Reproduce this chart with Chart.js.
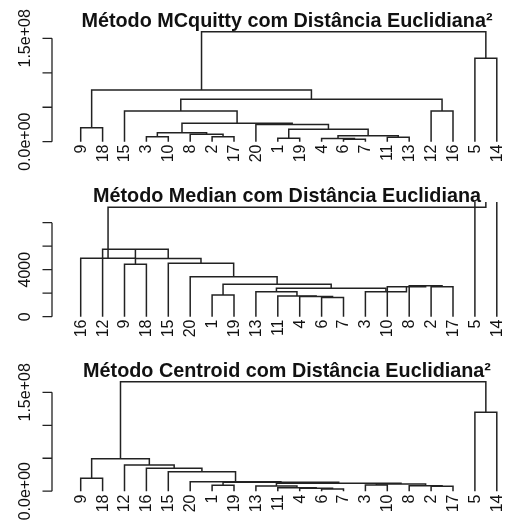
<!DOCTYPE html>
<html>
<head>
<meta charset="utf-8">
<script src="https://cdn.jsdelivr.net/npm/chart.js@4.4.0/dist/chart.umd.min.js"></script>
<style>
body { margin: 0; background: #fff; }
canvas { display: block; }
</style>
</head>
<body>
<canvas id="chartMcq" width="510" height="175"></canvas>
<canvas id="chartMedian" width="510" height="175"></canvas>
<canvas id="chartCentroid" width="510" height="175"></canvas>
<script>
// merges are written R style: negative = observation, positive = earlier step

// McQuitty, squared euclidean
var mcqLeaves = ['9','18','15','3','10','8','2','17','20','1','19','4','6','7','11','13','12','16','5','14'];
var mcqLeft   = [-6, -1, -4, -11, -3, -2, 3, -8, 5, 2, -9, -20, 9, -12, -15, 15, 11, -5, 17];
var mcqRight  = [-7, -19, 1, -13, -10, -17, 4, 6, 8, 7, -18, 10, 12, -16, 13, 14, 16, -14, 18];
var mcqHeight = [3.5e6, 4.9e6, 4.8e6, 6.4e6, 7.3e6, 7.2e6, 8.7e6, 10.7e6, 13.1e6, 18.0e6,
                 20.3e6, 25.0e6, 26.7e6, 44.5e6, 44.6e6, 61.5e6, 75.0e6, 121e6, 159.7e6];
var mcqTicks = [0, 5e7, 1e8, 1.5e8];
var mcqTickLabels = ['0.0e+00', '', '', '1.5e+08'];

// Median, euclidean
var medLeaves = ['16','12','9','18','15','20','1','19','13','11','4','6','7','3','10','8','2','17','5','14'];
var medLeft   = [-6, -4, -11, -1, -13, -2, -8, -10, -3, 5, 4, -20, -9, -15, 13, -12, -16, -5, 17];
var medRight  = [-7, 1, 2, -19, 3, -17, 6, 7, 8, 9, 10, 11, -18, 12, 14, 15, 16, -14, 18];
var medHeight = [1634, 1719, 1762, 1847, 2128, 2553, 2638, 2553, 2128, 2417,
                 2757, 3404, 4460, 4545, 4950, 5736, 4970, 11000, 9311];
var medTicks = [0, 2000, 4000, 6000, 8000];
var medTickLabels = ['0', '', '4000', '', ''];

// Centroid, squared euclidean
var cenLeaves = ['9','18','12','16','15','20','1','19','13','11','4','6','7','3','10','8','2','17','5','14'];
var cenLeft   = [-6, -4, -11, -13, -1, -2, -8, -3, 8, 4, 5, -20, -9, -15, -16, -12, 13, -5, 17];
var cenRight  = [-7, 1, 2, 3, -19, -17, 6, -10, 7, 9, 10, 11, -18, 12, 14, 15, 16, -14, 18];
var cenHeight = [3.3e6, 4.4e6, 5.3e6, 7.9e6, 9.0e6, 7.5e6, 8.4e6, 9.4e6, 10.9e6, 12.0e6,
                 13.5e6, 14.4e6, 19.6e6, 29.6e6, 34.7e6, 39.8e6, 49.2e6, 119.7e6, 166.2e6];
var cenTicks = [0, 5e7, 1e8, 1.5e8];
var cenTickLabels = ['0.0e+00', '', '', '1.5e+08'];

function buildSegments(leaves, left, right, height) {
    var nodeX = [], nodeY = [], segs = [];
    function node(id) {
        if (id < 0) return { x: leaves.indexOf(String(-id)) + 1, y: 0 };
        return { x: nodeX[id - 1], y: nodeY[id - 1] };
    }
    for (var i = 0; i < left.length; i++) {
        var a = node(left[i]), b = node(right[i]);
        nodeX.push((a.x + b.x) / 2);
        nodeY.push(height[i]);
        segs.push([{x: a.x, y: a.y}, {x: a.x, y: height[i]}, {x: b.x, y: height[i]}, {x: b.x, y: b.y}]);
    }
    return segs;
}

// R style axis, leaf labels and title
function rPlot(p) {
    return {
        id: 'rPlot',
        afterDraw: function(chart) {
            var ctx = chart.ctx, xs = chart.scales.x, ys = chart.scales.y;
            ctx.save();
            ctx.strokeStyle = '#222';
            ctx.fillStyle = '#111';
            ctx.lineWidth = 1.3;
            ctx.beginPath();
            ctx.moveTo(52, ys.getPixelForValue(p.ticks[p.ticks.length - 1]));
            ctx.lineTo(52, ys.getPixelForValue(p.ticks[0]));
            p.ticks.forEach(function(t) {
                var y = ys.getPixelForValue(t);
                ctx.moveTo(42.5, y);
                ctx.lineTo(52, y);
            });
            ctx.stroke();

            ctx.font = '16px "Liberation Sans", Arial, sans-serif';
            ctx.textBaseline = 'middle';
            p.ticks.forEach(function(t, i) {
                if (!p.tickLabels[i]) return;
                ctx.save();
                ctx.translate(25.5, ys.getPixelForValue(t));
                ctx.rotate(-Math.PI / 2);
                ctx.textAlign = 'center';
                ctx.fillText(p.tickLabels[i], 0, 0);
                ctx.restore();
            });
            p.leaves.forEach(function(lab, i) {
                ctx.save();
                ctx.translate(xs.getPixelForValue(i + 1) + 0.5, 144.5);
                ctx.rotate(-Math.PI / 2);
                ctx.textAlign = 'right';
                ctx.fillText(lab, 0, 0);
                ctx.restore();
            });

            ctx.font = 'bold 19.8px "Liberation Sans", Arial, sans-serif';
            ctx.textAlign = 'center';
            ctx.textBaseline = 'alphabetic';
            ctx.fillText(p.title, 287, 26.5);
            ctx.restore();
        }
    };
}

function makeDendro(id, p) {
    var segs = buildSegments(p.leaves, p.left, p.right, p.height);
    var pxLeaf = 21.9, firstLeaf = 80.7, top = 27, h = 175;
    var xMin = 1 - firstLeaf / pxLeaf;
    return new Chart(document.getElementById(id), {
        type: 'scatter',
        data: {
            datasets: segs.map(function(s) {
                return {
                    data: s,
                    showLine: true,
                    borderColor: '#222',
                    borderWidth: 1.5,
                    pointRadius: 0,
                    tension: 0
                };
            })
        },
        options: {
            responsive: false,
            animation: false,
            devicePixelRatio: 1,
            events: [],
            layout: { padding: { top: top, left: 0, right: 0, bottom: 0 } },
            plugins: { legend: { display: false }, tooltip: { enabled: false } },
            scales: {
                x: { type: 'linear', display: false, min: xMin, max: xMin + 510 / pxLeaf },
                y: { type: 'linear', display: false,
                     min: (p.zeroPx - h) / p.ppu, max: (p.zeroPx - top) / p.ppu }
            }
        },
        plugins: [rPlot(p)]
    });
}

makeDendro('chartMcq', {
    title: 'Método MCquitty com Distância Euclidiana²',
    leaves: mcqLeaves, left: mcqLeft, right: mcqRight, height: mcqHeight,
    ticks: mcqTicks, tickLabels: mcqTickLabels, zeroPx: 141.7, ppu: 68.9 / 1e8
});
makeDendro('chartMedian', {
    title: 'Método Median com Distância Euclidiana',
    leaves: medLeaves, left: medLeft, right: medRight, height: medHeight,
    ticks: medTicks, tickLabels: medTickLabels, zeroPx: 141.7, ppu: 11.75 / 1000
});
makeDendro('chartCentroid', {
    title: 'Método Centroid com Distância Euclidiana²',
    leaves: cenLeaves, left: cenLeft, right: cenRight, height: cenHeight,
    ticks: cenTicks, tickLabels: cenTickLabels, zeroPx: 141.2, ppu: 65.9 / 1e8
});
</script>
</body>
</html>
